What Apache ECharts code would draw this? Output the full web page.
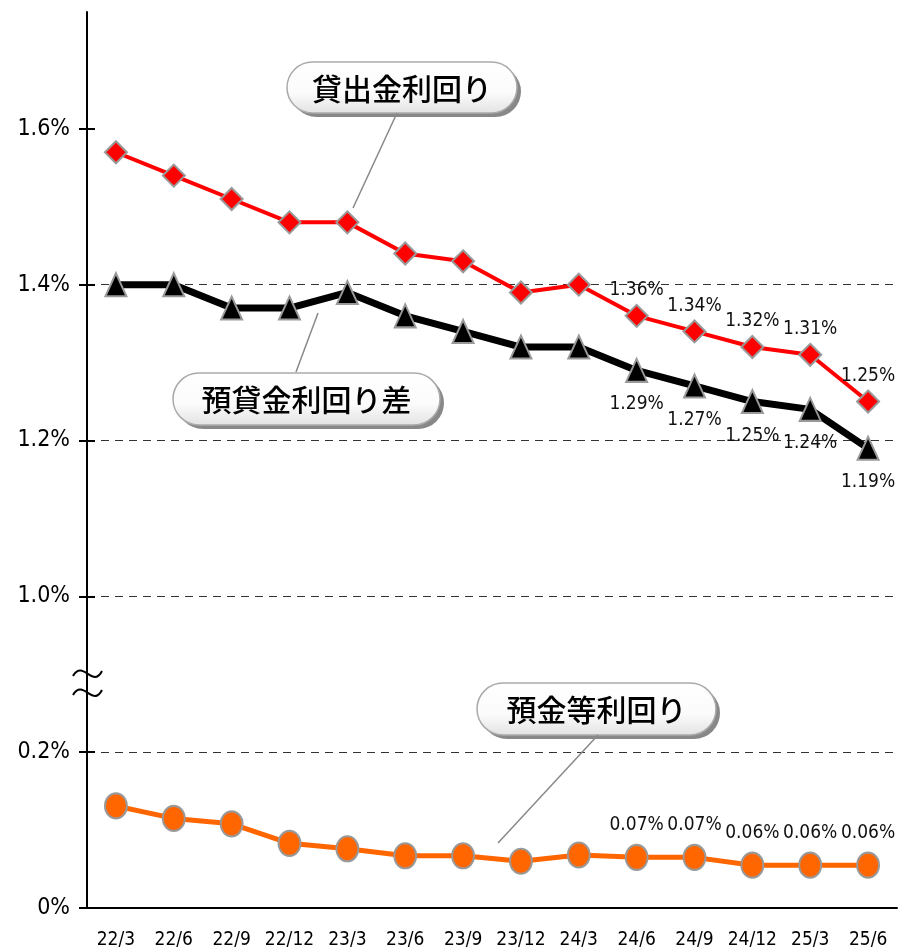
<!DOCTYPE html>
<html>
<head>
<meta charset="utf-8">
<script src="https://cdn.jsdelivr.net/npm/echarts@6.0.0/dist/echarts.min.js"></script>
<style>
html, body { margin: 0; padding: 0; background: #fff; }
#chart { width: 908px; height: 950px; }
</style>
</head>
<body>
<div id="chart"></div>
<script>
// quarters
var categories = ['22/3', '22/6', '22/9', '22/12', '23/3', '23/6', '23/9', '23/12', '24/3', '24/6', '24/9', '24/12', '25/3', '25/6'];
// 貸出金利回り (%)
var loanYield = [1.57, 1.54, 1.51, 1.48, 1.48, 1.44, 1.43, 1.39, 1.40, 1.36, 1.34, 1.32, 1.31, 1.25];
// 預貸金利回り差 (%)
var spreadYield = [1.40, 1.40, 1.37, 1.37, 1.39, 1.36, 1.34, 1.32, 1.32, 1.29, 1.27, 1.25, 1.24, 1.19];
// 預金等利回り (%)
var depositYield = [0.131, 0.115, 0.108, 0.083, 0.076, 0.067, 0.067, 0.060, 0.068, 0.065, 0.065, 0.055, 0.055, 0.055];
// y axis tick values (real %)
var yTickValues = [0, 0.2, 1.0, 1.2, 1.4, 1.6];
// axis is cut between these two values
var breakFrom = 0.2;
var breakTo = 1.0;
// labels are shown from this category on
var labelStart = 9;

var FONT = '"DejaVu Sans Condensed", "Liberation Sans Narrow", sans-serif';
var CJK = '"Noto Sans CJK JP", sans-serif';
var shift = breakTo - breakFrom - 0.2; // the cut keeps one 0.2 step

function toAxis(v) { return v >= breakTo - 1e-9 ? v - shift : v; }
function fromAxis(a) { return a > breakFrom + 1e-9 ? a + shift : a; }

var tickPos = yTickValues.map(toAxis);

function pctLabel(arr, digits) {
    return function (p) {
        var v = arr[p.dataIndex];
        return (Math.round(v * Math.pow(10, digits) + 1e-6) / Math.pow(10, digits)).toFixed(digits) + '%';
    };
}

function mkData(arr) {
    return arr.map(function (v, i) {
        return { value: toAxis(v), label: { show: i >= labelStart } };
    });
}

var myChart = echarts.init(document.getElementById('chart'));

// 吹き出し
function callout(x, y, w, h, text) {
    return {
        type: 'group',
        z: 100,
        children: [
            { type: 'rect', shape: { x: x + 4, y: y + 4, width: w, height: h, r: h / 2 }, style: { fill: '#888' } },
            {
                type: 'rect', shape: { x: x, y: y, width: w, height: h, r: h / 2 },
                style: {
                    fill: {
                        type: 'linear', x: 0, y: 0, x2: 0, y2: 1,
                        colorStops: [
                            { offset: 0, color: '#ffffff' }, { offset: 0.6, color: '#fbfbfb' }, { offset: 1, color: '#e2e2e2' }
                        ]
                    },
                    stroke: '#aaa', lineWidth: 1.5
                }
            },
            {
                type: 'text',
                style: {
                    text: text, x: x + w / 2, y: y + h / 2 + 1,
                    align: 'center', verticalAlign: 'middle',
                    textAlign: 'center', textVerticalAlign: 'middle',
                    font: '500 30px ' + CJK, fill: '#000'
                }
            }
        ]
    };
}

function leader(x1, y1, x2, y2) {
    return { type: 'line', z: 90, shape: { x1: x1, y1: y1, x2: x2, y2: y2 }, style: { stroke: '#888', lineWidth: 1.5 } };
}

// 波線 (axis break)
function wave(y) {
    return {
        type: 'bezierCurve', z: 50,
        shape: { x1: 73, y1: y + 3, cpx1: 83, cpy1: y - 14, cpx2: 93, cpy2: y + 16, x2: 102, y2: y - 2 },
        style: { fill: null, stroke: '#000', lineWidth: 2 }
    };
}

var options = {
    animation: false,
    grid: { left: 87, right: 11, top: 12, bottom: 41, containLabel: false },
    xAxis: {
        type: 'category',
        data: categories,
        boundaryGap: true,
        axisLine: { lineStyle: { color: '#000', width: 2 } },
        axisTick: { inside: true, length: 6, lineStyle: { color: '#000', width: 1.5 } },
        axisLabel: { interval: 0, fontSize: 19, fontFamily: FONT, color: '#000', margin: 23 }
    },
    yAxis: [
        {
            type: 'value', min: 0, max: 1.15, interval: 0.2,
            axisLine: { show: true, lineStyle: { color: '#000', width: 2 } },
            axisTick: { show: true, customValues: tickPos, length: 8, lineStyle: { color: '#000', width: 2 } },
            axisLabel: {
                customValues: tickPos, fontSize: 23, fontFamily: FONT, color: '#000', margin: 17,
                formatter: function (a) {
                    var v = fromAxis(a);
                    return v < 1e-9 ? '0%' : v.toFixed(1) + '%';
                }
            },
            splitLine: { show: true, showMinLine: false, showMaxLine: false, lineStyle: { type: [8, 6], color: '#333', width: 1 } }
        },
        {
            // inner half of the crossing ticks
            type: 'value', min: 0, max: 1.15, interval: 0.2, position: 'left',
            axisLine: { show: false },
            axisTick: { show: true, inside: true, customValues: tickPos, length: 8, lineStyle: { color: '#000', width: 2 } },
            axisLabel: { show: false },
            splitLine: { show: false }
        }
    ],
    series: [
        {
            name: '預金等利回り', type: 'line', data: mkData(depositYield), z: 3,
            symbol: 'circle', symbolSize: [22, 25],
            lineStyle: { color: '#ff6600', width: 5 },
            itemStyle: { color: '#ff6600', borderColor: '#999', borderWidth: 2 },
            label: { position: 'top', distance: 9, fontSize: 19, fontFamily: FONT, color: '#111', formatter: pctLabel(depositYield, 2) }
        },
        {
            name: '預貸金利回り差', type: 'line', data: mkData(spreadYield), z: 3,
            symbol: 'triangle', symbolSize: [21, 23],
            lineStyle: { color: '#000', width: 7 },
            itemStyle: { color: '#000', borderColor: '#999', borderWidth: 2 },
            label: { position: 'bottom', distance: 12, fontSize: 19, fontFamily: FONT, color: '#111', formatter: pctLabel(spreadYield, 2) }
        },
        {
            name: '貸出金利回り', type: 'line', data: mkData(loanYield), z: 4,
            symbol: 'diamond', symbolSize: [22, 22],
            lineStyle: { color: '#ff0000', width: 4 },
            itemStyle: { color: '#ff0000', borderColor: '#999', borderWidth: 2 },
            label: { position: 'top', distance: 4, fontSize: 19, fontFamily: FONT, color: '#111', formatter: pctLabel(loanYield, 2) }
        }
    ],
    graphic: [
        wave(673),
        wave(692),
        leader(397, 113, 353, 208),
        leader(318, 313, 296, 372),
        leader(598, 735, 498, 843),
        callout(287, 62, 230, 51, '貸出金利回り'),
        callout(173, 373, 267, 52, '預貸金利回り差'),
        callout(477, 683, 239, 52, '預金等利回り')
    ]
};
myChart.setOption(options);
</script>
</body>
</html>
